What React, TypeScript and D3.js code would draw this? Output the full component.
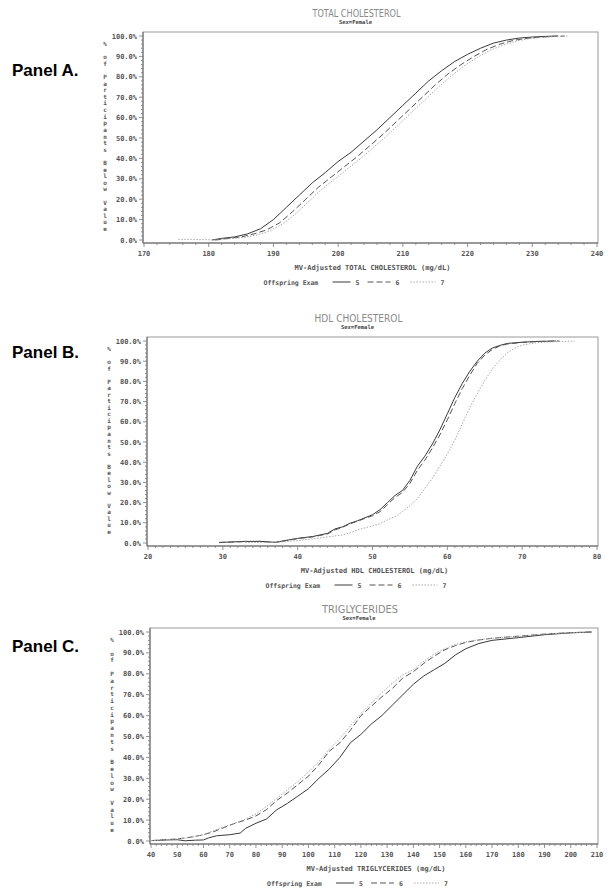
import React from "react";
import * as d3 from "d3";

// ---------- DATA ----------
const examLabels = ["5", "6", "7"];
const yTicks = [0, 10, 20, 30, 40, 50, 60, 70, 80, 90, 100];

// Panel A: Total cholesterol (value, % below)
const tcX = [170, 180, 190, 200, 210, 220, 230, 240];
const tc5: [number, number][] = [
  [180.5, 0], [182, 0.8], [184, 1.5], [186, 3], [188, 5.5], [190, 10], [192, 16], [194, 22],
  [196, 28], [198, 33], [200, 38.5], [202, 43], [204, 48.5], [206, 54], [208, 60], [210, 66],
  [212, 72], [214, 78], [216, 83], [218, 87.5], [220, 91], [222, 94], [224, 96.5], [226, 98],
  [228, 99], [230, 99.5], [232, 99.8], [234, 100],
];
const tc6: [number, number][] = [
  [181, 0], [183, 0.8], [185, 1.5], [187, 3], [189, 5], [191, 8.5], [193, 14], [195, 20],
  [197, 26], [199, 31], [201, 36], [203, 41], [205, 46.5], [207, 52], [209, 58], [211, 64],
  [213, 70], [215, 76], [217, 81.5], [219, 86], [221, 90], [223, 93.5], [225, 96], [227, 97.8],
  [229, 98.8], [231, 99.4], [233, 99.8], [235, 100],
];
const tc7: [number, number][] = [
  [175.3, 0.3], [177.2, 0.3], [181.5, 0], [183.5, 0.7], [185.5, 1.3], [187.5, 2.5], [189.5, 4.5],
  [191.5, 8], [193.5, 13], [195.5, 19], [197.5, 25], [199.5, 30], [201.5, 35], [203.5, 40],
  [205.5, 45.5], [207.5, 51], [209.5, 57], [211.5, 63], [213.5, 69], [215.5, 75], [217.5, 80.5],
  [219.5, 85.5], [221.5, 89.5], [223.5, 93], [225.5, 95.5], [227.5, 97.5], [229.5, 98.7],
  [231.5, 99.3], [233.5, 99.7], [235.5, 100],
];

// Panel B: HDL cholesterol
const hdlX = [20, 30, 40, 50, 60, 70, 80];
const hdl5: [number, number][] = [
  [29.5, 0.3], [31, 0.5], [33, 0.8], [35, 0.8], [36, 0.6], [37, 0.3], [38, 1], [40, 2.3],
  [42, 3.2], [44, 4.8], [45, 7], [46, 8], [47, 9.8], [48, 11], [49, 12.5], [50, 14], [51, 16.5],
  [52, 20], [53, 23.5], [54, 26], [55, 31], [56, 38], [57, 43], [58, 49], [59, 56], [60, 64],
  [61, 72], [62, 79], [63, 85], [64, 90], [65, 94], [66, 96.5], [67, 97.8], [68, 98.8],
  [70, 99.4], [72, 99.8], [74.5, 100],
];
const hdl6: [number, number][] = [
  [29.5, 0.2], [31, 0.4], [33, 0.7], [35, 0.8], [36, 0.5], [37, 0.3], [38, 0.9], [40, 2.2],
  [42, 3], [44, 4.5], [45, 6.5], [46, 7.8], [47, 9.5], [48, 10.8], [49, 12.2], [50, 13.5],
  [51, 15.5], [52, 19], [53, 22.5], [54, 25], [55, 29.5], [56, 36], [57, 41], [58, 47],
  [59, 53.5], [60, 61], [61, 69], [62, 76.5], [63, 83], [64, 89], [65, 93], [66, 95.8],
  [67, 97.5], [68, 98.5], [70, 99.3], [72, 99.7], [75, 100],
];
const hdl7: [number, number][] = [
  [33, 0.2], [36, 0.3], [38, 0.5], [40, 1.2], [42, 2], [44, 3], [46, 4], [47, 5], [48, 6.5],
  [50, 8.5], [51, 9.5], [52, 11.5], [53, 13], [54, 15.5], [55, 18.5], [56, 22], [57, 27],
  [58, 32], [59, 38], [60, 44], [61, 51], [62, 59], [63, 67], [64, 74], [65, 80.5], [66, 86],
  [67, 90.5], [68, 94], [69, 96.5], [70, 98], [72, 99.2], [74, 99.6], [77, 100],
];

// Panel C: Triglycerides
const tgX = [40, 50, 60, 70, 80, 90, 100, 110, 120, 130, 140, 150, 160, 170, 180, 190, 200, 210];
const tg5: [number, number][] = [
  [42, 0.3], [46, 0.5], [50, 0.6], [53, 0.1], [57, 0.4], [60, 0.5], [62, 1.5], [65, 2.5],
  [70, 3], [74, 3.8], [76, 6], [80, 8.5], [84, 10.5], [88, 15], [92, 18], [96, 21.5],
  [100, 25], [104, 30], [108, 34.5], [112, 40], [116, 47], [120, 51], [124, 56], [128, 60],
  [132, 65], [136, 70], [140, 75], [144, 79], [148, 82], [152, 85], [156, 89], [160, 92],
  [165, 94.5], [170, 96], [180, 97.3], [190, 98.7], [200, 99.6], [208, 100],
];
const tg6: [number, number][] = [
  [40, 0.2], [44, 0.5], [48, 0.8], [52, 1.3], [56, 2], [60, 3], [64, 4.5], [68, 6.5],
  [72, 8.5], [76, 10], [80, 12], [84, 15], [88, 19.5], [92, 23], [96, 27], [100, 31],
  [104, 36.5], [108, 43], [112, 47], [116, 53], [120, 60], [124, 64.5], [128, 69], [132, 73],
  [136, 78], [140, 81], [144, 85], [148, 88.5], [152, 91.5], [156, 93.5], [160, 95],
  [165, 96.2], [170, 97], [180, 98], [190, 99], [200, 99.7], [208, 100],
];
const tg7: [number, number][] = [
  [40, 0.2], [44, 0.5], [48, 0.8], [52, 1.2], [56, 2], [60, 3], [64, 5], [68, 7], [72, 8.5],
  [76, 10.5], [80, 13], [84, 16.5], [88, 20.5], [92, 24.5], [96, 28.5], [100, 33], [104, 38],
  [108, 44], [112, 49], [116, 55], [120, 61], [124, 66], [128, 71], [132, 75.5], [136, 79.5],
  [140, 82], [144, 86], [148, 89.5], [152, 92], [156, 94], [160, 95.3], [165, 96.3],
  [170, 97], [180, 98], [190, 99], [200, 99.7], [208, 100],
];

const panelNames = ["Panel A.", "Panel B.", "Panel C."];
const titles = ["TOTAL CHOLESTEROL", "HDL CHOLESTEROL", "TRIGLYCERIDES"];
const xLabels = [
  "MV-Adjusted TOTAL CHOLESTEROL (mg/dL)",
  "MV-Adjusted HDL CHOLESTEROL (mg/dL)",
  "MV-Adjusted TRIGLYCERIDES (mg/dL)",
];
const yTitle = "% of Participants Below Value";

// ---------- LAYOUT ----------
type PanelCfg = {
  name: string; title: string; xLabel: string; xTicks: number[]; minorStep: number;
  series: [number, number][][]; left: number; right: number; y0: number; y100: number;
  nameY: number; titleW: number;
};

const panels: PanelCfg[] = [
  { name: panelNames[0], title: titles[0], xLabel: xLabels[0], xTicks: tcX, minorStep: 2,
    series: [tc5, tc6, tc7], left: 144, right: 597, y0: 240, y100: 36, nameY: 76, titleW: 88 },
  { name: panelNames[1], title: titles[1], xLabel: xLabels[1], xTicks: hdlX, minorStep: 1,
    series: [hdl5, hdl6, hdl7], left: 148, right: 597, y0: 543, y100: 341, nameY: 358, titleW: 88 },
  { name: panelNames[2], title: titles[2], xLabel: xLabels[2], xTicks: tgX, minorStep: 2,
    series: [tg5, tg6, tg7], left: 151, right: 597, y0: 841, y100: 632, nameY: 652, titleW: 76 },
];

const styles = [
  { stroke: "#3a3a3a", dash: "none", width: 1 },
  { stroke: "#555", dash: "6,3", width: 1 },
  { stroke: "#aaa", dash: "1.5,1.5", width: 1 },
];

const mono = "'DejaVu Sans Mono', monospace";

function Panel({ p }: { p: PanelCfg }) {
  const xd = d3.extent(p.xTicks) as [number, number];
  const x = d3.scaleLinear().domain(xd).range([p.left, p.right]);
  const y = d3.scaleLinear().domain([0, 100]).range([p.y0, p.y100]);
  const top = p.y100 - 4;
  const bottom = p.y0 + 3;
  const fl = p.left - 1;
  const fr = p.right + 1;
  const cx = (fl + fr) / 2;
  const line = d3.line<[number, number]>().x((d) => x(d[0])).y((d) => y(d[1]));
  const minorX = d3.range(xd[0], xd[1] + 0.001, p.minorStep);
  const minorY = d3.range(0, 100.001, 2);
  const chars = yTitle.split("");
  const cyStart = p.y100 + 8;
  const cyEnd = p.y0 - 11;
  const cStep = (cyEnd - cyStart) / (chars.length - 1);
  const legY = bottom + 39;
  return (
    <g>
      <text x={12} y={p.nameY} fontFamily="'Liberation Sans', Arial, sans-serif" fontWeight="bold"
        fontSize={17} fill="#000">{p.name}</text>
      <text x={cx - 14} y={top - 15.5} fontFamily="'DejaVu Sans', sans-serif" fontSize={10}
        fill="#8a8a8a" textAnchor="middle" textLength={p.titleW} lengthAdjust="spacingAndGlyphs">{p.title}</text>
      <text x={cx - 15} y={top - 8} fontFamily={mono} fontSize={5.5} fontWeight="bold"
        fill="#444" textAnchor="middle">Sex=Female</text>
      {/* frame */}
      <rect x={fl} y={top} width={fr - fl} height={bottom - top} fill="none" stroke="#999" strokeWidth={1} />
      <line x1={fl} x2={fl} y1={top} y2={bottom} stroke="#666" />
      <line x1={fl} x2={fr} y1={bottom} y2={bottom} stroke="#666" />
      {/* y ticks */}
      {minorY.map((v) => (
        <line key={"my" + v} x1={fl - (v % 10 === 0 ? 4 : 2)} x2={fl} y1={y(v)} y2={y(v)} stroke="#777" strokeWidth={0.8} />
      ))}
      {yTicks.map((v) => (
        <text key={"yt" + v} x={fl - 6} y={y(v) + 2.5} fontFamily={mono} fontSize={7}
          fontWeight="bold" fill="#555" textAnchor="end">{v.toFixed(1) + "%"}</text>
      ))}
      {chars.map((c, i) => (
        <text key={"yc" + i} x={p.left - 39} y={cyStart + i * cStep + 2} fontFamily={mono}
          fontSize={6} fontWeight="bold" fill="#555" textAnchor="middle">{c}</text>
      ))}
      {/* x ticks */}
      {minorX.map((v) => (
        <line key={"mx" + v} x1={x(v)} x2={x(v)} y1={bottom} y2={bottom + (p.xTicks.includes(v) ? 4 : 2)} stroke="#777" strokeWidth={0.8} />
      ))}
      {p.xTicks.map((v) => (
        <text key={"xt" + v} x={x(v)} y={bottom + 13} fontFamily={mono} fontSize={7}
          fontWeight="bold" fill="#555" textAnchor="middle">{v}</text>
      ))}
      <text x={cx + 2} y={bottom + 27} fontFamily={mono} fontSize={7} fontWeight="bold"
        fill="#555" textAnchor="middle">{p.xLabel}</text>
      {/* curves */}
      {p.series.map((s, i) => (
        <path key={"s" + i} d={line(s) || ""} fill="none" stroke={styles[i].stroke}
          strokeWidth={styles[i].width} strokeDasharray={styles[i].dash} />
      ))}
      {/* legend */}
      <text x={cx - 107} y={legY + 2.5} fontFamily={mono} fontSize={6.5} fontWeight="bold" fill="#555">Offspring Exam</text>
      {examLabels.map((lab, i) => {
        const starts = [-38, -3, 40];
        const ends = [-20, 20, 65];
        return (
          <g key={"lg" + i}>
            <line x1={cx + starts[i]} x2={cx + ends[i]} y1={legY} y2={legY} stroke={styles[i].stroke}
              strokeDasharray={styles[i].dash} strokeWidth={1} />
            <text x={cx + ends[i] + 5} y={legY + 2.5} fontFamily={mono} fontSize={6.5}
              fontWeight="bold" fill="#555">{lab}</text>
          </g>
        );
      })}
    </g>
  );
}

export default function App() {
  return (
    <svg width={609} height={892} style={{ position: "absolute", left: 0, top: 0, background: "#fff" }}>
      <rect width={609} height={892} fill="#fff" />
      {panels.map((p, i) => (
        <Panel key={i} p={p} />
      ))}
    </svg>
  );
}
